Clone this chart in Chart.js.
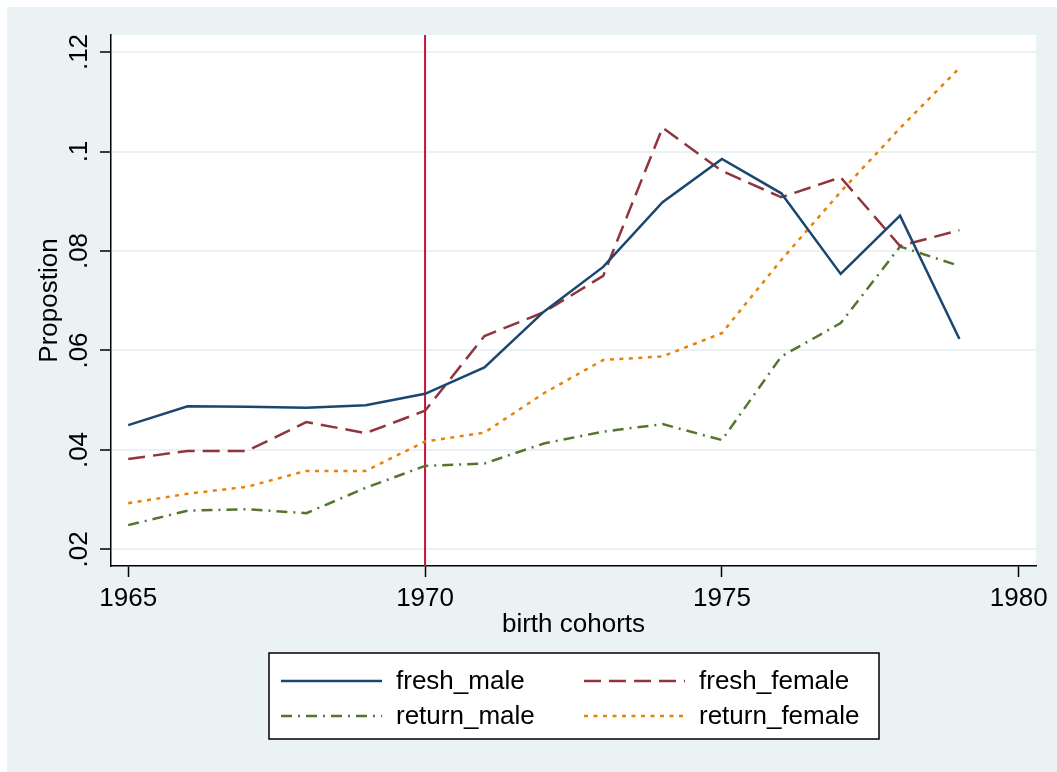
<!DOCTYPE html>
<html>
<head>
<meta charset="utf-8">
<script src="https://cdn.jsdelivr.net/npm/chart.js@4/dist/chart.umd.min.js"></script>
<style>
  html, body { margin: 0; padding: 0; background: #fff; }
  #wrap { width: 1057px; height: 772px; }
</style>
</head>
<body>
<div id="wrap"><canvas id="myChart" width="1057" height="772"></canvas></div>
<script>
// birth cohorts on the x axis
var years = [1965, 1966, 1967, 1968, 1969, 1970, 1971, 1972, 1973, 1974, 1975, 1976, 1977, 1978, 1979];

// proportions
var freshMale    = [0.0450, 0.0488, 0.0487, 0.0485, 0.0490, 0.0513, 0.0566, 0.0678, 0.0768, 0.0898, 0.0985, 0.0916, 0.0754, 0.0871, 0.0623];
var freshFemale  = [0.0382, 0.0398, 0.0398, 0.0456, 0.0434, 0.0479, 0.0629, 0.0677, 0.0750, 0.1048, 0.0961, 0.0908, 0.0948, 0.0810, 0.0842];
var returnMale   = [0.0249, 0.0278, 0.0281, 0.0273, 0.0324, 0.0368, 0.0373, 0.0413, 0.0437, 0.0452, 0.0420, 0.0588, 0.0655, 0.0809, 0.0770];
var returnFemale = [0.0293, 0.0312, 0.0326, 0.0358, 0.0358, 0.0417, 0.0435, 0.0514, 0.0581, 0.0588, 0.0635, 0.0782, 0.0919, 0.1047, 0.1168];

var xTickValues = [1965, 1970, 1975, 1980];
var yTickValues = [0.02, 0.04, 0.06, 0.08, 0.10, 0.12];
var yTickLabels = ['.02', '.04', '.06', '.08', '.1', '.12'];
var cutoffYear = 1970;

var BG = '#eaf2f3';
Chart.defaults.font.family = '"Liberation Sans", Arial, Helvetica, sans-serif';
Chart.defaults.font.size = 26;
Chart.defaults.color = '#000';

function toPoints(arr) {
    return arr.map(function (v, i) { return { x: years[i], y: v }; });
}

// stata style background: light bluish frame, white plot region
const backdrop = {
    id: 'backdrop',
    beforeDraw(chart) {
        const c = chart.ctx, a = chart.chartArea;
        c.save();
        c.fillStyle = '#fff';
        c.fillRect(0, 0, chart.width, chart.height);
        c.fillStyle = BG;
        c.fillRect(7, 7, chart.width - 7, chart.height - 7);
        c.fillStyle = '#fff';
        c.fillRect(a.left, a.top, a.right - a.left, a.bottom - a.top);
        c.restore();
    },
    // vertical line at the cutoff cohort, under the series
    beforeDatasetsDraw(chart) {
        const c = chart.ctx, a = chart.chartArea;
        const px = chart.scales.x.getPixelForValue(cutoffYear);
        c.save();
        c.strokeStyle = '#c8103c';
        c.lineWidth = 2;
        c.beginPath();
        c.moveTo(px, a.top);
        c.lineTo(px, a.bottom);
        c.stroke();
        c.restore();
    }
};

// legend in a boxed 2x2 grid under the plot
const boxLegend = {
    id: 'boxLegend',
    afterDraw(chart) {
        const c = chart.ctx, a = chart.chartArea;
        const w = 610, h = 86;
        const left = Math.round((a.left + a.right) / 2 - w / 2);
        const top = 653;
        c.save();
        c.fillStyle = '#fff';
        c.fillRect(left, top, w, h);
        c.strokeStyle = '#000';
        c.lineWidth = 1.5;
        c.strokeRect(left, top, w, h);
        const cols = [12, 315];
        const rows = [28, 63];
        chart.data.datasets.forEach(function (ds, i) {
            const cx = left + cols[i % 2];
            const cy = top + rows[Math.floor(i / 2)];
            c.strokeStyle = ds.borderColor;
            c.lineWidth = ds.borderWidth;
            c.setLineDash(ds.borderDash || []);
            c.beginPath();
            c.moveTo(cx, cy);
            c.lineTo(cx + 101, cy);
            c.stroke();
            c.setLineDash([]);
            c.fillStyle = '#000';
            c.font = '26px "Liberation Sans", Arial, sans-serif';
            c.textBaseline = 'middle';
            c.textAlign = 'left';
            c.fillText(ds.label, cx + 115, cy + 1);
        });
        c.restore();
    }
};

var data = {
    datasets: [
        { label: 'fresh_male', data: toPoints(freshMale), borderColor: '#1a476f', borderWidth: 2.5 },
        { label: 'fresh_female', data: toPoints(freshFemale), borderColor: '#90353b', borderWidth: 2.5, borderDash: [17, 8] },
        { label: 'return_male', data: toPoints(returnMale), borderColor: '#55752f', borderWidth: 2.5, borderDash: [11, 6, 2, 6] },
        { label: 'return_female', data: toPoints(returnFemale), borderColor: '#e8800a', borderWidth: 2.5, borderDash: [4, 5.5] }
    ]
};

var gr_config = {
    type: 'line',
    data: data,
    plugins: [backdrop, boxLegend],
    options: {
        responsive: false,
        animation: false,
        layout: { padding: { left: 0, top: 35, right: 21, bottom: 126 } },
        elements: { point: { radius: 0 }, line: { tension: 0, fill: false } },
        plugins: { legend: { display: false }, tooltip: { enabled: false } },
        scales: {
            x: {
                type: 'linear',
                min: 1964.71,
                max: 1980.29,
                afterBuildTicks: function (axis) {
                    axis.ticks = xTickValues.map(function (v) { return { value: v }; });
                },
                afterFit: function (axis) { axis.height = 80; },
                grid: { drawOnChartArea: false, drawTicks: true, tickLength: 11, tickColor: '#000', tickWidth: 1.5 },
                border: { display: true, color: '#000', width: 1.5 },
                ticks: { padding: 6, autoSkip: false, maxRotation: 0, callback: function (v) { return '' + v; } },
                title: { display: true, text: 'birth cohorts', padding: { top: 0, bottom: 6 } }
            },
            y: {
                min: 0.01668,
                max: 0.12342,
                afterBuildTicks: function (axis) {
                    axis.ticks = yTickValues.map(function (v) { return { value: v }; });
                },
                afterFit: function (axis) { axis.width = 111; },
                grid: { color: BG, lineWidth: 2, drawTicks: true, tickLength: 11, tickColor: '#000', tickWidth: 1.5 },
                border: { display: true, color: '#000', width: 1.5 },
                ticks: {
                    padding: 2, autoSkip: false, minRotation: 90, maxRotation: 90, crossAlign: 'center',
                    callback: function (v, i) { return yTickLabels[i]; }
                },
                title: { display: true, text: 'Propostion', padding: { top: 34, bottom: 0 } }
            }
        }
    }
};

var ctx = document.getElementById('myChart');
var myChart = new Chart(ctx, gr_config);
</script>
</body>
</html>
